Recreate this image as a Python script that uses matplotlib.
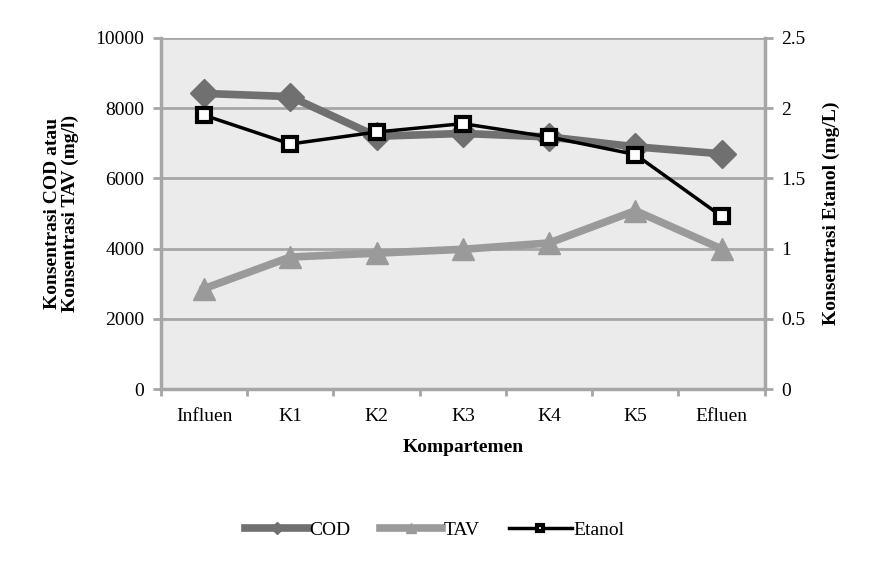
import matplotlib
matplotlib.use("Agg")
import matplotlib.pyplot as plt
import numpy as np

plt.rcParams['font.family'] = ['Liberation Serif', 'DejaVu Serif']

# data
kompartemen = ["Influen", "K1", "K2", "K3", "K4", "K5", "Efluen"]
cod = [8420, 8330, 7200, 7280, 7180, 6900, 6700]
tav = [2860, 3760, 3870, 3980, 4160, 5080, 3990]
etanol = [1.95, 1.745, 1.83, 1.89, 1.795, 1.67, 1.23]

grid_col = '#a6a6a6'
fig = plt.figure(figsize=(8.7, 5.71), dpi=100)
ax = fig.add_axes([0.185, 0.3187, 0.694, 0.6148])
ax.set_facecolor('#ebebeb')
x = np.arange(len(kompartemen))

ax.plot(x, cod, color='#707070', lw=5.5, marker='D', ms=14, label='COD', zorder=3)
ax.plot(x, tav, color='#9a9a9a', lw=5.5, marker='^', ms=16, label='TAV', zorder=3)

ax2 = ax.twinx()
ax2.plot(x, etanol, color='black', lw=2.5, marker='s', ms=10, mfc='white',
         mec='black', mew=3, label='Etanol', zorder=4)

ax.set_xlim(-0.5, len(kompartemen) - 0.5)
ax.set_ylim(0, 10000)
ax.set_yticks(np.arange(0, 10001, 2000))
ax2.set_ylim(0, 2.5)
ax2.set_yticks([0, 0.5, 1, 1.5, 2, 2.5])
ax2.set_yticklabels(['0', '0.5', '1', '1.5', '2', '2.5'])

ax.set_xticks(x)
ax.set_xticklabels(kompartemen)
ax.set_xticks(np.arange(-0.5, len(kompartemen)), minor=True)
ax.tick_params(axis='x', which='major', length=0, pad=14, labelsize=14)
ax.tick_params(axis='x', which='minor', length=5, color=grid_col, width=2, direction='out')
ax.tick_params(axis='y', length=6, color=grid_col, width=2, labelsize=14, pad=6)
ax2.tick_params(axis='y', length=6, color=grid_col, width=2, labelsize=14, pad=6)

ax.grid(axis='y', color=grid_col, lw=2)
ax.set_axisbelow(True)
for a in (ax, ax2):
    for s in a.spines.values():
        s.set_visible(False)
ax.spines['left'].set_visible(True)
ax.spines['bottom'].set_visible(True)
ax2.spines['right'].set_visible(True)
for s in (ax.spines['left'], ax.spines['bottom'], ax2.spines['right']):
    s.set_color(grid_col)
    s.set_linewidth(2.5)

ax.set_xlabel("Kompartemen", fontsize=14, fontweight='bold', labelpad=10)
ax.set_ylabel("Konsentrasi COD atau\nKonsentrasi TAV (mg/l)", fontsize=14,
              fontweight='bold', labelpad=12, linespacing=1.0)
ax2.set_ylabel("Konsentrasi Etanol (mg/L)", fontsize=14, fontweight='bold', labelpad=12)

h1, l1 = ax.get_legend_handles_labels()
h2, l2 = ax2.get_legend_handles_labels()
fig.legend(h1 + h2, l1 + l2, loc='center', bbox_to_anchor=(0.5, 0.072), ncol=3,
           frameon=False, fontsize=14, handlelength=3.2, handletextpad=0.1,
           columnspacing=1.5, markerscale=0.45)

fig.savefig("out.png", dpi=100)
